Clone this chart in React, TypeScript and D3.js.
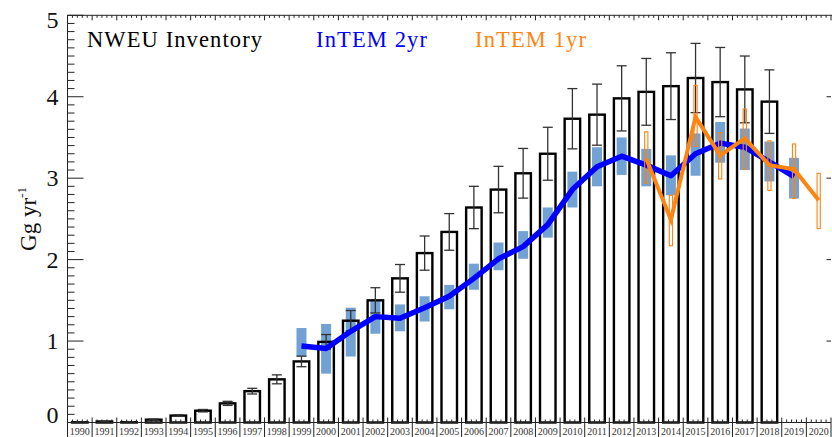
import React from "react";
import * as d3 from "d3";

// Years on the x axis (one cell per year)
const years: number[] = d3.range(1990, 2021);

// NWEU inventory emissions (Gg/yr), 1990–2018, with symmetric uncertainty
const inventoryYears: number[] = d3.range(1990, 2019);
const inventory: number[] = [
  0.003, 0.012, 0.004, 0.035, 0.085, 0.145, 0.235, 0.385, 0.53, 0.75,
  0.99, 1.25, 1.5, 1.77, 2.08, 2.34, 2.64, 2.86, 3.06, 3.3,
  3.73, 3.78, 3.98, 4.06, 4.13, 4.23, 4.18, 4.09, 3.94,
];
const inventoryErr: number[] = [
  0.002, 0.004, 0.002, 0.008, 0.01, 0.015, 0.025, 0.035, 0.055, 0.065,
  0.09, 0.125, 0.155, 0.17, 0.21, 0.225, 0.26, 0.285, 0.305, 0.325,
  0.37, 0.375, 0.4, 0.41, 0.41, 0.425, 0.425, 0.41, 0.39,
];

// InTEM 2-year inversion, 1999–2019
const intem2Years: number[] = d3.range(1999, 2020);
const intem2: number[] = [
  0.94, 0.91, 1.12, 1.3, 1.28, 1.41, 1.55, 1.77, 2.01, 2.16, 2.43,
  2.86, 3.14, 3.27, 3.16, 3.03, 3.3, 3.43, 3.38, 3.2, 3.02,
];
const intem2Lo: number[] = [
  0.81, 0.6, 0.81, 1.09, 1.12, 1.24, 1.39, 1.63, 1.87, 2.01, 2.27,
  2.64, 2.9, 3.04, 2.9, 2.79, 3.03, 3.19, 3.1, 2.96, 2.75,
];
const intem2Hi: number[] = [
  1.16, 1.21, 1.41, 1.49, 1.45, 1.55, 1.69, 1.95, 2.21, 2.35, 2.64,
  3.08, 3.38, 3.5, 3.36, 3.28, 3.55, 3.69, 3.61, 3.45, 3.25,
];

// InTEM 1-year inversion, 2013–2020
const intem1Years: number[] = d3.range(2013, 2021);
const intem1: number[] = [3.24, 2.49, 3.75, 3.28, 3.49, 3.16, 3.11, 2.73];
const intem1Lo: number[] = [2.94, 2.17, 3.39, 2.99, 3.11, 2.85, 2.75, 2.38];
const intem1Hi: number[] = [3.57, 2.79, 4.14, 3.56, 3.85, 3.46, 3.42, 3.06];

const yTicks: number[] = [0, 1, 2, 3, 4, 5];

const W = 832;
const H = 437;
const left = 67.5;
const right = 831;
const top = 15.3;
const bottom = 422.5;

const FONT =
  'Times, "Times New Roman", "Liberation Serif", "Nimbus Roman", "DejaVu Serif", serif';
const BLUE = "#0000ff";
const BLUE_BAND = "#72a2d4";
const ORANGE = "#ff8412";

const txt = (size: number): React.CSSProperties => ({ fontFamily: FONT, fontSize: size });

export default function App() {
  const x = d3
    .scaleBand<number>()
    .domain(years)
    .range([left, right])
    .padding(0);
  const bw = x.bandwidth();
  const cx = (yr: number) => (x(yr) as number) + bw / 2;
  const y = d3.scaleLinear().domain([0, 5]).range([bottom, top]);

  const barW = 15.5;
  const bandW = 10;
  const oW = 3.2;

  const line2 = d3
    .line<number>()
    .x((_, i) => cx(intem2Years[i]))
    .y((d) => y(d));
  const line1 = d3
    .line<number>()
    .x((_, i) => cx(intem1Years[i]))
    .y((d) => y(d));

  const minorY = d3
    .range(0, 50)
    .map((i) => i / 10)
    .filter((v) => Math.abs(v - Math.round(v)) > 1e-6);
  const boundaries = d3.range(0, years.length + 1).map((i) => left + i * bw);
  const subTicks: number[] = [];
  years.forEach((yr) => {
    for (let k = 1; k < 5; k++) subTicks.push((x(yr) as number) + (k * bw) / 5);
  });

  return (
    <svg
      width={W}
      height={H}
      style={{ position: "absolute", left: 0, top: 0, display: "block", background: "#fff" }}
    >
      {/* InTEM 2yr uncertainty bands */}
      {intem2Years.map((yr, i) => (
        <rect
          key={"b" + yr}
          x={cx(yr) - bandW / 2}
          y={y(intem2Hi[i])}
          width={bandW}
          height={y(intem2Lo[i]) - y(intem2Hi[i])}
          fill={BLUE_BAND}
        />
      ))}

      {/* Inventory bars */}
      {inventoryYears.map((yr, i) => (
        <rect
          key={"inv" + yr}
          x={cx(yr) - barW / 2}
          y={y(inventory[i])}
          width={barW}
          height={bottom - y(inventory[i])}
          fill="none"
          stroke="#000"
          strokeWidth={2.4}
        />
      ))}

      {/* Inventory error bars */}
      {inventoryYears.map((yr, i) => {
        const c = cx(yr);
        const hi = y(inventory[i] + inventoryErr[i]);
        const lo = y(Math.max(0, inventory[i] - inventoryErr[i]));
        return (
          <g key={"err" + yr} stroke="#333" strokeWidth={1.3}>
            <line x1={c} x2={c} y1={hi} y2={lo} />
            <line x1={c - 5} x2={c + 5} y1={hi} y2={hi} />
            <line x1={c - 5} x2={c + 5} y1={lo} y2={lo} />
          </g>
        );
      })}

      {/* InTEM 2yr line */}
      <path
        d={line2(intem2) || ""}
        fill="none"
        stroke={BLUE}
        strokeWidth={5.5}
        strokeLinejoin="round"
        strokeLinecap="butt"
      />

      {/* InTEM 1yr uncertainty boxes */}
      {intem1Years.map((yr, i) => (
        <rect
          key={"o" + yr}
          x={cx(yr) - oW / 2}
          y={y(intem1Hi[i])}
          width={oW}
          height={y(intem1Lo[i]) - y(intem1Hi[i])}
          fill="none"
          stroke={ORANGE}
          strokeWidth={1.1}
        />
      ))}

      {/* InTEM 1yr line */}
      <path
        d={line1(intem1) || ""}
        fill="none"
        stroke={ORANGE}
        strokeWidth={4}
        strokeLinejoin="miter"
      />

      {/* Frame: left, top, bottom axes */}
      <g stroke="#222" strokeWidth={1}>
        <line x1={left} x2={left} y1={top} y2={bottom} />
        <line x1={left} x2={W} y1={top} y2={top} />
        <line x1={left} x2={right} y1={bottom} y2={bottom} />
        {yTicks.map((v) => (
          <line key={"ly" + v} x1={left} x2={left + 16} y1={y(v)} y2={y(v)} />
        ))}
        {minorY.map((v) => (
          <line key={"lm" + v} x1={left} x2={left + 7} y1={y(v)} y2={y(v)} />
        ))}
        {yTicks.slice(1, 5).map((v) => (
          <line key={"ry" + v} x1={right - 4.5} x2={right} y1={y(v)} y2={y(v)} />
        ))}
        {boundaries.map((b, i) => (
          <line key={"tb" + i} x1={b} x2={b} y1={top} y2={top + 5} />
        ))}
        {subTicks.map((s, i) => (
          <line key={"ts" + i} x1={s} x2={s} y1={top} y2={top + 2.5} />
        ))}
        {boundaries.map((b, i) => (
          <line key={"bb" + i} x1={b} x2={b} y1={bottom - 5} y2={H} />
        ))}
        {subTicks.map((s, i) => (
          <line key={"bs" + i} x1={s} x2={s} y1={bottom} y2={bottom - 3} />
        ))}
      </g>

      {/* Y tick labels */}
      {yTicks.map((v) => {
        let yy = y(v);
        if (v === 0) yy -= 7.5;
        if (v === 5) yy += 5;
        return (
          <text
            key={"yl" + v}
            x={58.5}
            y={yy}
            textAnchor="end"
            dominantBaseline="central"
            style={txt(24)}
            fill="#111"
          >
            {v}
          </text>
        );
      })}

      {/* Year labels */}
      {years.map((yr) => (
        <text
          key={"yr" + yr}
          x={cx(yr)}
          y={434.5}
          textAnchor="middle"
          style={txt(10)}
          fill="#333"
        >
          {yr}
        </text>
      ))}

      {/* Y axis title */}
      <text
        transform="translate(36, 219) rotate(-90)"
        textAnchor="middle"
        style={txt(23)}
        fill="#111"
      >
        Gg yr
        <tspan style={txt(13)} dy={-10}>
          -1
        </tspan>
      </text>

      {/* Legend labels */}
      <text x={87} y={46.5} style={txt(22.5)} fill="#000" textLength={175} lengthAdjust="spacing">
        NWEU Inventory
      </text>
      <text x={316} y={46.5} style={txt(22.5)} fill={BLUE} textLength={111} lengthAdjust="spacing">
        InTEM 2yr
      </text>
      <text x={475} y={46.5} style={txt(22.5)} fill={ORANGE} textLength={111} lengthAdjust="spacing">
        InTEM 1yr
      </text>
    </svg>
  );
}
